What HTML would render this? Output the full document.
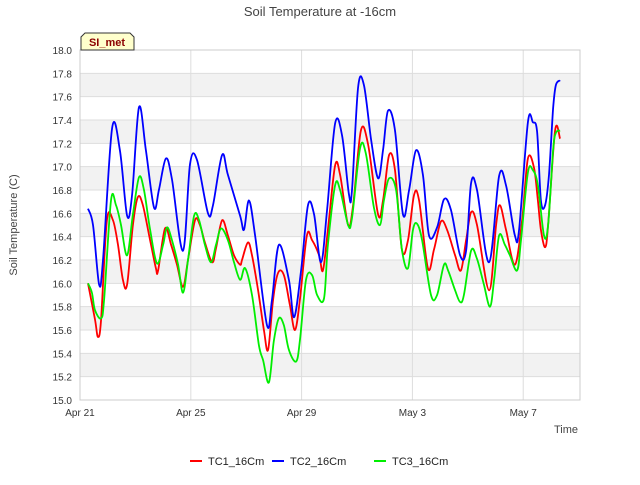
<!DOCTYPE html>
<html><head><meta charset="utf-8"><style>
body{margin:0;background:#fff;font-family:"Liberation Sans","DejaVu Sans",sans-serif}
svg text{font-family:"Liberation Sans","DejaVu Sans",sans-serif}
</style></head><body>
<svg id="c" width="640" height="480" xmlns="http://www.w3.org/2000/svg">
<rect width="640" height="480" fill="#fff"/>
<text x="320" y="16" text-anchor="middle" font-size="13" fill="#444">Soil Temperature at -16cm</text>
<g id="plot"></g>
<text transform="translate(17,225) rotate(-90)" text-anchor="middle" font-size="11" fill="#444">Soil Temperature (C)</text>
<text x="566" y="433" text-anchor="middle" font-size="11" fill="#444">Time</text>
<g>
<path d="M81,50 L81,37 L85,33 L130,33 L134,37 L134,50 Z" fill="#ffffcc" stroke="#333"/>
<text x="107" y="46" text-anchor="middle" font-size="11" font-weight="bold" fill="#8b0000">SI_met</text>
</g>
<g>
<g><line x1="190" y1="461" x2="202" y2="461" stroke="#ff0000" stroke-width="2"/><text x="208" y="465" font-size="11" fill="#222">TC1_16Cm</text></g>
<g><line x1="272" y1="461" x2="284" y2="461" stroke="#0000ff" stroke-width="2"/><text x="290" y="465" font-size="11" fill="#222">TC2_16Cm</text></g>
<g><line x1="374" y1="461" x2="386" y2="461" stroke="#00ee00" stroke-width="2"/><text x="392" y="465" font-size="11" fill="#222">TC3_16Cm</text></g>
</g>
</svg>
<script>
const yTicks=[15.0,15.2,15.4,15.6,15.8,16.0,16.2,16.4,16.6,16.8,17.0,17.2,17.4,17.6,17.8,18.0];
const xTickDays=[0,4,8,12,16];
const xTickLabels=["Apr 21","Apr 25","Apr 29","May 3","May 7"];
const tc1=[[.29,16.0],[.54,15.69],[.65,15.54],[.76,15.69],[.97,16.54],[1.19,16.54],[1.37,16.33],[1.55,16.03],[1.70,15.99],[1.91,16.5],[2.09,16.74],[2.27,16.67],[2.53,16.37],[2.74,16.13],[2.82,16.11],[3.07,16.47],[3.29,16.33],[3.50,16.16],[3.72,15.97],[3.90,16.2],[4.15,16.54],[4.33,16.5],[4.51,16.35],[4.77,16.18],[4.91,16.3],[5.13,16.54],[5.34,16.41],[5.56,16.24],[5.78,16.16],[5.85,16.2],[6.06,16.35],[6.21,16.24],[6.43,15.94],[6.64,15.6],[6.79,15.43],[6.97,15.86],[7.15,16.09],[7.36,16.07],[7.58,15.81],[7.76,15.6],[7.94,15.86],[8.19,16.41],[8.38,16.37],[8.63,16.24],[8.77,16.11],[8.95,16.46],[9.21,17.01],[9.39,16.93],[9.68,16.5],[9.86,16.67],[10.14,17.31],[10.40,17.19],[10.76,16.59],[10.94,16.71],[11.16,17.1],[11.37,16.97],[11.62,16.29],[11.84,16.37],[12.06,16.76],[12.24,16.71],[12.56,16.13],[12.78,16.29],[13.03,16.53],[13.25,16.46],[13.54,16.24],[13.75,16.11],[13.94,16.37],[14.12,16.61],[14.33,16.5],[14.77,15.94],[15.02,16.5],[15.16,16.67],[15.38,16.46],[15.70,16.16],[15.96,16.54],[16.17,17.07],[16.39,16.99],[16.53,16.71],[16.64,16.46],[16.79,16.31],[16.90,16.5],[17.15,17.31],[17.33,17.24]];
const tc2=[[.29,16.64],[.47,16.5],[.69,15.99],[.83,16.2],[1.16,17.33],[1.44,17.14],[1.70,16.58],[1.88,16.76],[2.13,17.51],[2.38,17.14],[2.67,16.65],[2.85,16.8],[3.10,17.07],[3.32,16.89],[3.72,16.28],[3.97,17.02],[4.22,17.06],[4.62,16.6],[4.80,16.67],[5.13,17.10],[5.34,16.93],[5.78,16.58],[5.92,16.46],[6.10,16.71],[6.32,16.41],[6.75,15.64],[6.93,15.86],[7.18,16.33],[7.54,16.03],[7.73,15.71],[7.98,16.11],[8.23,16.67],[8.45,16.59],[8.70,16.18],[8.92,16.63],[9.21,17.37],[9.46,17.27],[9.71,16.76],[9.82,16.8],[10.04,17.68],[10.25,17.70],[10.51,17.23],[10.76,16.90],[10.94,17.14],[11.12,17.48],[11.37,17.31],[11.66,16.59],[11.88,16.8],[12.13,17.14],[12.38,16.93],[12.60,16.41],[12.89,16.48],[13.14,16.72],[13.39,16.63],[13.72,16.24],[13.94,16.28],[14.12,16.86],[14.33,16.8],[14.77,16.18],[15.13,16.92],[15.38,16.84],[15.70,16.41],[15.85,16.46],[16.17,17.38],[16.35,17.38],[16.50,17.3],[16.64,16.71],[16.79,16.67],[16.93,16.93],[17.08,17.5],[17.18,17.7],[17.33,17.74]];
const tc3=[[.29,16.0],[.43,15.92],[.54,15.77],[.76,15.7],[.87,15.86],[1.12,16.71],[1.30,16.67],[1.48,16.5],[1.70,16.24],[1.91,16.59],[2.13,16.91],[2.31,16.8],[2.53,16.46],[2.78,16.17],[3.0,16.33],[3.14,16.48],[3.32,16.37],[3.54,16.16],[3.72,15.92],[3.90,16.2],[4.12,16.58],[4.30,16.54],[4.51,16.33],[4.73,16.18],[4.91,16.33],[5.09,16.47],[5.34,16.37],[5.56,16.18],[5.78,16.03],[5.96,16.13],[6.21,15.9],[6.46,15.47],[6.61,15.34],[6.82,15.15],[7.0,15.51],[7.18,15.70],[7.36,15.64],[7.54,15.43],[7.80,15.33],[7.94,15.51],[8.16,16.03],[8.38,16.07],[8.56,15.9],[8.81,15.87],[8.95,16.33],[9.21,16.84],[9.39,16.8],[9.68,16.5],[9.82,16.56],[10.11,17.16],[10.32,17.11],[10.61,16.65],[10.83,16.5],[10.97,16.71],[11.16,16.9],[11.41,16.8],[11.62,16.29],[11.84,16.13],[12.02,16.46],[12.17,16.51],[12.35,16.37],[12.67,15.9],[12.89,15.9],[13.14,16.16],[13.29,16.11],[13.54,15.94],[13.72,15.84],[13.86,15.9],[14.12,16.28],[14.33,16.21],[14.58,15.99],[14.80,15.80],[14.95,16.03],[15.13,16.41],[15.34,16.33],[15.52,16.24],[15.78,16.11],[15.92,16.37],[16.17,16.95],[16.35,16.97],[16.53,16.84],[16.75,16.41],[16.90,16.5],[17.08,17.14],[17.18,17.29],[17.33,17.31]];

const L=80,R=580,T=50,B=400,DAYS=18.05,YMIN=15,YMAX=18;
const xs=d=>L+d/DAYS*(R-L);
const ys=v=>B-(v-YMIN)/(YMAX-YMIN)*(B-T);
const NS="http://www.w3.org/2000/svg";
const g=document.getElementById('plot');
function mk(t,a){const e=document.createElementNS(NS,t);for(const k in a)e.setAttribute(k,a[k]);return e;}
for(let i=0;i<yTicks.length-1;i++){
  if(Math.round(yTicks[i]*10)%4===0){
    const r=mk('rect',{x:L,y:ys(yTicks[i+1]),width:R-L,height:ys(yTicks[i])-ys(yTicks[i+1]),fill:'#f2f2f2'});
    
    
    g.appendChild(r);
  }
}
yTicks.forEach(v=>{
  const l=mk('line',{x1:L,x2:R,y1:ys(v),y2:ys(v),stroke:'#ddd','stroke-width':1});
  
  
  g.appendChild(l);
  const t=mk('text',{x:L-8,y:ys(v)+4,'text-anchor':'end','font-size':10,fill:'#333'});
  t.textContent=v.toFixed(1);
  
  
  g.appendChild(t);
});
xTickDays.forEach((d,i)=>{
  const l=mk('line',{x1:xs(d),x2:xs(d),y1:T,y2:B,stroke:'#ddd','stroke-width':1});
  
  
  g.appendChild(l);
  const t=mk('text',{x:xs(d),y:B+16,'text-anchor':'middle','font-size':10,fill:'#333'});
  t.textContent=xTickLabels[i];
  
  
  g.appendChild(t);
});
const frame=mk('rect',{x:L,y:T,width:R-L,height:B-T,fill:'none',stroke:'#ccc'});


g.appendChild(frame);
function path(data){
  const p=data.map(d=>[xs(d[0]),ys(d[1])]);
  let s='M'+p[0][0].toFixed(1)+','+p[0][1].toFixed(1);
  for(let i=0;i<p.length-1;i++){
    const p0=p[i-1]||p[i],p1=p[i],p2=p[i+1],p3=p[i+2]||p2;
    const c1=[p1[0]+(p2[0]-p0[0])/6,p1[1]+(p2[1]-p0[1])/6];
    const c2=[p2[0]-(p3[0]-p1[0])/6,p2[1]-(p3[1]-p1[1])/6];
    s+='C'+c1.map(n=>n.toFixed(1))+' '+c2.map(n=>n.toFixed(1))+' '+p2.map(n=>n.toFixed(1));
  }
  return s;
}
[[tc1,'#ff0000','series-tc1'],[tc2,'#0000ff','series-tc2'],[tc3,'#00ee00','series-tc3']].forEach(([d,c,n])=>{
  const e=mk('path',{d:path(d),fill:'none',stroke:c,'stroke-width':1.8,'stroke-linejoin':'round'});
  
  
  g.appendChild(e);
});
</script>
</body></html>
